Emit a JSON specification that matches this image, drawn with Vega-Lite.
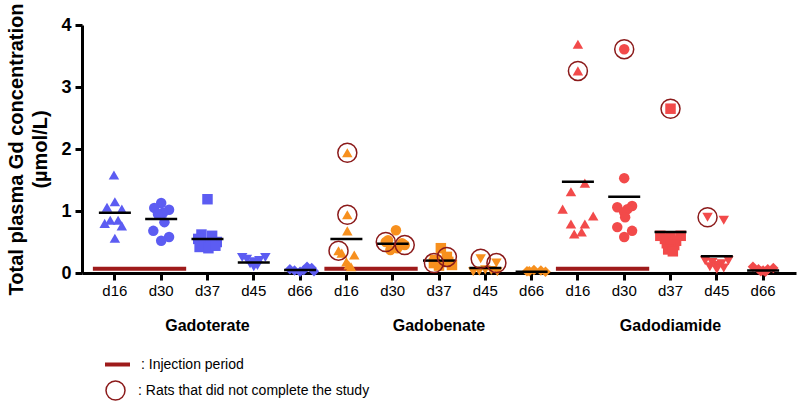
{
  "$schema": "https://vega.github.io/schema/vega-lite/v6.json",
  "width": 714,
  "height": 248,
  "autosize": "none",
  "padding": {"left": 82, "top": 25, "right": 4, "bottom": 135},
  "config": {
    "view": {"stroke": null},
    "axis": {"domainColor": "black", "domainWidth": 3, "tickColor": "black", "tickWidth": 3, "labelColor": "black", "titleColor": "black", "grid": false}
  },
  "datasets": {
    "pts": [
      {"a": "Gadoterate", "d": "d16", "v": 1.58, "j": -0.02, "o": 0},
      {"a": "Gadoterate", "d": "d16", "v": 1.06, "j": -0.17, "o": 0},
      {"a": "Gadoterate", "d": "d16", "v": 1.15, "j": 0, "o": 0},
      {"a": "Gadoterate", "d": "d16", "v": 1.03, "j": 0.15, "o": 0},
      {"a": "Gadoterate", "d": "d16", "v": 0.85, "j": -0.1, "o": 0},
      {"a": "Gadoterate", "d": "d16", "v": 0.85, "j": 0.07, "o": 0},
      {"a": "Gadoterate", "d": "d16", "v": 0.8, "j": -0.22, "o": 0},
      {"a": "Gadoterate", "d": "d16", "v": 0.76, "j": 0.15, "o": 0},
      {"a": "Gadoterate", "d": "d16", "v": 0.56, "j": 0, "o": 0},
      {"a": "Gadoterate", "d": "d30", "v": 1.13, "j": 0, "o": 0},
      {"a": "Gadoterate", "d": "d30", "v": 1.05, "j": -0.15, "o": 0},
      {"a": "Gadoterate", "d": "d30", "v": 1.02, "j": 0.17, "o": 0},
      {"a": "Gadoterate", "d": "d30", "v": 0.97, "j": 0.04, "o": 0},
      {"a": "Gadoterate", "d": "d30", "v": 0.95, "j": -0.07, "o": 0},
      {"a": "Gadoterate", "d": "d30", "v": 0.82, "j": 0.07, "o": 0},
      {"a": "Gadoterate", "d": "d30", "v": 0.68, "j": -0.17, "o": 0},
      {"a": "Gadoterate", "d": "d30", "v": 0.58, "j": 0.17, "o": 0},
      {"a": "Gadoterate", "d": "d30", "v": 0.52, "j": 0, "o": 0},
      {"a": "Gadoterate", "d": "d37", "v": 1.19, "j": 0, "o": 0},
      {"a": "Gadoterate", "d": "d37", "v": 0.62, "j": -0.13, "o": 0},
      {"a": "Gadoterate", "d": "d37", "v": 0.6, "j": 0.1, "o": 0},
      {"a": "Gadoterate", "d": "d37", "v": 0.55, "j": -0.2, "o": 0},
      {"a": "Gadoterate", "d": "d37", "v": 0.5, "j": 0.2, "o": 0},
      {"a": "Gadoterate", "d": "d37", "v": 0.48, "j": -0.08, "o": 0},
      {"a": "Gadoterate", "d": "d37", "v": 0.45, "j": 0.08, "o": 0},
      {"a": "Gadoterate", "d": "d37", "v": 0.42, "j": -0.17, "o": 0},
      {"a": "Gadoterate", "d": "d37", "v": 0.4, "j": 0.02, "o": 0},
      {"a": "Gadoterate", "d": "d37", "v": 0.44, "j": 0.17, "o": 0},
      {"a": "Gadoterate", "d": "d45", "v": 0.25, "j": -0.25, "o": 0},
      {"a": "Gadoterate", "d": "d45", "v": 0.25, "j": 0.25, "o": 0},
      {"a": "Gadoterate", "d": "d45", "v": 0.22, "j": -0.15, "o": 0},
      {"a": "Gadoterate", "d": "d45", "v": 0.2, "j": 0.12, "o": 0},
      {"a": "Gadoterate", "d": "d45", "v": 0.18, "j": 0, "o": 0},
      {"a": "Gadoterate", "d": "d45", "v": 0.15, "j": -0.08, "o": 0},
      {"a": "Gadoterate", "d": "d45", "v": 0.12, "j": 0.08, "o": 0},
      {"a": "Gadoterate", "d": "d45", "v": 0.1, "j": 0, "o": 0},
      {"a": "Gadoterate", "d": "d66", "v": 0.06, "j": -0.22, "o": 0},
      {"a": "Gadoterate", "d": "d66", "v": 0.04, "j": -0.12, "o": 0},
      {"a": "Gadoterate", "d": "d66", "v": 0.02, "j": 0, "o": 0},
      {"a": "Gadoterate", "d": "d66", "v": 0.05, "j": 0.08, "o": 0},
      {"a": "Gadoterate", "d": "d66", "v": 0.1, "j": 0.15, "o": 0},
      {"a": "Gadoterate", "d": "d66", "v": 0.08, "j": 0.25, "o": 0},
      {"a": "Gadoterate", "d": "d66", "v": 0.03, "j": 0.3, "o": 0},
      {"a": "Gadobenate", "d": "d16", "v": 1.94, "j": 0.02, "o": 1},
      {"a": "Gadobenate", "d": "d16", "v": 0.94, "j": 0.02, "o": 1},
      {"a": "Gadobenate", "d": "d16", "v": 0.68, "j": 0.02, "o": 0},
      {"a": "Gadobenate", "d": "d16", "v": 0.36, "j": -0.17, "o": 1},
      {"a": "Gadobenate", "d": "d16", "v": 0.32, "j": -0.1, "o": 0},
      {"a": "Gadobenate", "d": "d16", "v": 0.29, "j": 0.17, "o": 0},
      {"a": "Gadobenate", "d": "d16", "v": 0.18, "j": 0, "o": 0},
      {"a": "Gadobenate", "d": "d16", "v": 0.13, "j": 0.05, "o": 0},
      {"a": "Gadobenate", "d": "d16", "v": 0.1, "j": 0.1, "o": 0},
      {"a": "Gadobenate", "d": "d30", "v": 0.69, "j": 0.07, "o": 0},
      {"a": "Gadobenate", "d": "d30", "v": 0.53, "j": -0.1, "o": 0},
      {"a": "Gadobenate", "d": "d30", "v": 0.5, "j": -0.15, "o": 1},
      {"a": "Gadobenate", "d": "d30", "v": 0.48, "j": 0.2, "o": 0},
      {"a": "Gadobenate", "d": "d30", "v": 0.45, "j": 0.26, "o": 1},
      {"a": "Gadobenate", "d": "d30", "v": 0.4, "j": 0.1, "o": 0},
      {"a": "Gadobenate", "d": "d30", "v": 0.37, "j": -0.05, "o": 0},
      {"a": "Gadobenate", "d": "d37", "v": 0.4, "j": 0.04, "o": 0},
      {"a": "Gadobenate", "d": "d37", "v": 0.26, "j": 0.17, "o": 1},
      {"a": "Gadobenate", "d": "d37", "v": 0.21, "j": -0.09, "o": 0},
      {"a": "Gadobenate", "d": "d37", "v": 0.18, "j": 0.2, "o": 0},
      {"a": "Gadobenate", "d": "d37", "v": 0.16, "j": -0.11, "o": 1},
      {"a": "Gadobenate", "d": "d37", "v": 0.13, "j": 0.28, "o": 0},
      {"a": "Gadobenate", "d": "d37", "v": 0.12, "j": 0, "o": 0},
      {"a": "Gadobenate", "d": "d45", "v": 0.23, "j": -0.1, "o": 1},
      {"a": "Gadobenate", "d": "d45", "v": 0.16, "j": 0.24, "o": 1},
      {"a": "Gadobenate", "d": "d45", "v": 0.05, "j": 0, "o": 0},
      {"a": "Gadobenate", "d": "d45", "v": 0.04, "j": 0.13, "o": 0},
      {"a": "Gadobenate", "d": "d45", "v": 0.03, "j": -0.13, "o": 0},
      {"a": "Gadobenate", "d": "d45", "v": 0.02, "j": 0.26, "o": 0},
      {"a": "Gadobenate", "d": "d45", "v": 0.02, "j": -0.26, "o": 0},
      {"a": "Gadobenate", "d": "d66", "v": 0.03, "j": -0.1, "o": 0},
      {"a": "Gadobenate", "d": "d66", "v": 0.05, "j": 0.05, "o": 0},
      {"a": "Gadobenate", "d": "d66", "v": 0.04, "j": 0.2, "o": 0},
      {"a": "Gadobenate", "d": "d66", "v": 0.02, "j": 0.3, "o": 0},
      {"a": "Gadobenate", "d": "d66", "v": 0.03, "j": -0.05, "o": 0},
      {"a": "Gadodiamide", "d": "d16", "v": 3.69, "j": 0, "o": 0},
      {"a": "Gadodiamide", "d": "d16", "v": 3.26, "j": 0, "o": 1},
      {"a": "Gadodiamide", "d": "d16", "v": 1.45, "j": 0.15, "o": 0},
      {"a": "Gadodiamide", "d": "d16", "v": 1.31, "j": -0.15, "o": 0},
      {"a": "Gadodiamide", "d": "d16", "v": 1.03, "j": -0.33, "o": 0},
      {"a": "Gadodiamide", "d": "d16", "v": 0.92, "j": 0.33, "o": 0},
      {"a": "Gadodiamide", "d": "d16", "v": 0.79, "j": -0.15, "o": 0},
      {"a": "Gadodiamide", "d": "d16", "v": 0.79, "j": 0.15, "o": 0},
      {"a": "Gadodiamide", "d": "d16", "v": 0.66, "j": 0.08, "o": 0},
      {"a": "Gadodiamide", "d": "d16", "v": 0.63, "j": -0.08, "o": 0},
      {"a": "Gadodiamide", "d": "d30", "v": 3.61, "j": 0, "o": 1},
      {"a": "Gadodiamide", "d": "d30", "v": 1.53, "j": 0, "o": 0},
      {"a": "Gadodiamide", "d": "d30", "v": 1.08, "j": 0.17, "o": 0},
      {"a": "Gadodiamide", "d": "d30", "v": 1.06, "j": -0.15, "o": 0},
      {"a": "Gadodiamide", "d": "d30", "v": 1.03, "j": 0.07, "o": 0},
      {"a": "Gadodiamide", "d": "d30", "v": 0.98, "j": 0, "o": 0},
      {"a": "Gadodiamide", "d": "d30", "v": 0.9, "j": 0.02, "o": 0},
      {"a": "Gadodiamide", "d": "d30", "v": 0.74, "j": -0.15, "o": 0},
      {"a": "Gadodiamide", "d": "d30", "v": 0.68, "j": 0.17, "o": 0},
      {"a": "Gadodiamide", "d": "d30", "v": 0.58, "j": 0, "o": 0},
      {"a": "Gadodiamide", "d": "d37", "v": 2.65, "j": 0, "o": 1},
      {"a": "Gadodiamide", "d": "d37", "v": 0.6, "j": -0.22, "o": 0},
      {"a": "Gadodiamide", "d": "d37", "v": 0.6, "j": 0.22, "o": 0},
      {"a": "Gadodiamide", "d": "d37", "v": 0.58, "j": 0, "o": 0},
      {"a": "Gadodiamide", "d": "d37", "v": 0.55, "j": -0.12, "o": 0},
      {"a": "Gadodiamide", "d": "d37", "v": 0.52, "j": 0.12, "o": 0},
      {"a": "Gadodiamide", "d": "d37", "v": 0.48, "j": -0.08, "o": 0},
      {"a": "Gadodiamide", "d": "d37", "v": 0.45, "j": 0.08, "o": 0},
      {"a": "Gadodiamide", "d": "d37", "v": 0.42, "j": 0, "o": 0},
      {"a": "Gadodiamide", "d": "d37", "v": 0.38, "j": -0.05, "o": 0},
      {"a": "Gadodiamide", "d": "d37", "v": 0.35, "j": 0.05, "o": 0},
      {"a": "Gadodiamide", "d": "d45", "v": 0.9, "j": -0.2, "o": 1},
      {"a": "Gadodiamide", "d": "d45", "v": 0.85, "j": 0.15, "o": 0},
      {"a": "Gadodiamide", "d": "d45", "v": 0.2, "j": -0.25, "o": 0},
      {"a": "Gadodiamide", "d": "d45", "v": 0.2, "j": 0.25, "o": 0},
      {"a": "Gadodiamide", "d": "d45", "v": 0.17, "j": -0.1, "o": 0},
      {"a": "Gadodiamide", "d": "d45", "v": 0.15, "j": 0.1, "o": 0},
      {"a": "Gadodiamide", "d": "d45", "v": 0.12, "j": 0, "o": 0},
      {"a": "Gadodiamide", "d": "d45", "v": 0.1, "j": -0.15, "o": 0},
      {"a": "Gadodiamide", "d": "d45", "v": 0.08, "j": 0.15, "o": 0},
      {"a": "Gadodiamide", "d": "d45", "v": 0.06, "j": 0, "o": 0},
      {"a": "Gadodiamide", "d": "d66", "v": 0.1, "j": -0.22, "o": 0},
      {"a": "Gadodiamide", "d": "d66", "v": 0.08, "j": 0.22, "o": 0},
      {"a": "Gadodiamide", "d": "d66", "v": 0.06, "j": -0.1, "o": 0},
      {"a": "Gadodiamide", "d": "d66", "v": 0.06, "j": 0.1, "o": 0},
      {"a": "Gadodiamide", "d": "d66", "v": 0.04, "j": 0, "o": 0},
      {"a": "Gadodiamide", "d": "d66", "v": 0.02, "j": 0.05, "o": 0},
      {"a": "Gadodiamide", "d": "d66", "v": 0.03, "j": -0.05, "o": 0}
    ],
    "means": [
      {"a": "Gadoterate", "d": "d16", "v": 0.97},
      {"a": "Gadoterate", "d": "d30", "v": 0.87},
      {"a": "Gadoterate", "d": "d37", "v": 0.55},
      {"a": "Gadoterate", "d": "d45", "v": 0.17},
      {"a": "Gadoterate", "d": "d66", "v": 0.05},
      {"a": "Gadobenate", "d": "d16", "v": 0.55},
      {"a": "Gadobenate", "d": "d30", "v": 0.47},
      {"a": "Gadobenate", "d": "d37", "v": 0.2},
      {"a": "Gadobenate", "d": "d45", "v": 0.08},
      {"a": "Gadobenate", "d": "d66", "v": 0.02},
      {"a": "Gadodiamide", "d": "d16", "v": 1.47},
      {"a": "Gadodiamide", "d": "d30", "v": 1.23},
      {"a": "Gadodiamide", "d": "d37", "v": 0.66},
      {"a": "Gadodiamide", "d": "d45", "v": 0.27},
      {"a": "Gadodiamide", "d": "d66", "v": 0.04}
    ],
    "inj": [
      {"s": "Gadoterate|d16", "e": "Gadoterate|d30"},
      {"s": "Gadobenate|d16", "e": "Gadobenate|d30"},
      {"s": "Gadodiamide|d16", "e": "Gadodiamide|d30"}
    ]
  },
  "layer": [
    {
      "data": {"name": "inj"},
      "mark": {"type": "rule", "strokeWidth": 4, "xOffset": -22, "x2Offset": 25},
      "encoding": {
        "x": {"field": "s", "type": "nominal", "axis": null,
          "scale": {"domain": ["Gadoterate|d16","Gadoterate|d30","Gadoterate|d37","Gadoterate|d45","Gadoterate|d66","Gadobenate|d16","Gadobenate|d30","Gadobenate|d37","Gadobenate|d45","Gadobenate|d66","Gadodiamide|d16","Gadodiamide|d30","Gadodiamide|d37","Gadodiamide|d45","Gadodiamide|d66"], "paddingInner": 0, "paddingOuter": 0.21}},
        "x2": {"field": "e"},
        "y": {"datum": 0.07, "type": "quantitative"},
        "color": {"datum": ": Injection period", "type": "nominal",
          "scale": {"range": ["#9e1b1b"]},
          "legend": {"orient": "none", "legendX": 21, "legendY": 325, "title": null, "padding": 0,
            "symbolType": "stroke", "symbolSize": 625, "symbolStrokeWidth": 4,
            "labelFont": "Liberation Sans", "labelFontSize": 14, "labelColor": "black", "labelOffset": 9, "labelLimit": 500}}
      }
    },
    {
      "data": {"name": "pts"},
      "transform": [{"calculate": "datum.a + '|' + datum.d", "as": "key"}],
      "mark": {"type": "point", "filled": true, "opacity": 1, "size": 110, "strokeWidth": 0},
      "encoding": {
        "x": {"field": "key", "type": "nominal",
          "scale": {"domain": ["Gadoterate|d16","Gadoterate|d30","Gadoterate|d37","Gadoterate|d45","Gadoterate|d66","Gadobenate|d16","Gadobenate|d30","Gadobenate|d37","Gadobenate|d45","Gadobenate|d66","Gadodiamide|d16","Gadodiamide|d30","Gadodiamide|d37","Gadodiamide|d45","Gadodiamide|d66"], "paddingInner": 0, "paddingOuter": 0.21},
          "axis": {"orient": "bottom", "title": null, "labelExpr": "split(datum.value, '|')[1]", "tickSize": 7, "labelPadding": 3,
            "labelFont": "Liberation Sans", "labelFontSize": 15, "labelAngle": 0, "labelOverlap": false}},
        "xOffset": {"field": "j", "type": "quantitative", "scale": {"domain": [-0.5, 0.5]}},
        "y": {
          "field": "v", "type": "quantitative",
          "scale": {"domain": [0, 4], "nice": false},
          "axis": {
            "title": ["Total plasma Gd concentration", "(µmol/L)"],
            "values": [0, 1, 2, 3, 4], "format": "d",
            "tickSize": 7, "labelPadding": 4,
            "labelFont": "Liberation Sans", "labelFontWeight": "bold", "labelFontSize": 18,
            "titleFont": "Liberation Sans", "titleFontWeight": "bold", "titleFontSize": 20,
            "titleLineHeight": 24, "titlePadding": 10
          }
        },
        "fill": {"field": "a", "type": "nominal", "legend": null,
          "scale": {"domain": ["Gadoterate", "Gadobenate", "Gadodiamide"], "range": ["#5c5cf2", "#f7901e", "#f24a4a"]}},
        "shape": {"field": "d", "type": "nominal", "legend": null,
          "scale": {"domain": ["d16", "d30", "d37", "d45", "d66"], "range": ["triangle-up", "circle", "square", "triangle-down", "diamond"]}}
      }
    },
    {
      "data": {"name": "means"},
      "transform": [{"calculate": "datum.a + '|' + datum.d", "as": "key"}],
      "mark": {"type": "tick", "color": "black", "size": 32, "thickness": 2.5, "opacity": 1},
      "encoding": {
        "x": {"field": "key", "type": "nominal",
          "scale": {"domain": ["Gadoterate|d16","Gadoterate|d30","Gadoterate|d37","Gadoterate|d45","Gadoterate|d66","Gadobenate|d16","Gadobenate|d30","Gadobenate|d37","Gadobenate|d45","Gadobenate|d66","Gadodiamide|d16","Gadodiamide|d30","Gadodiamide|d37","Gadodiamide|d45","Gadodiamide|d66"], "paddingInner": 0, "paddingOuter": 0.21},
          "axis": {"orient": "bottom", "title": null, "domain": false, "ticks": false, "tickSize": 0, "labelPadding": 44,
            "labelExpr": "split(datum.value, '|')[1] == 'd37' ? split(datum.value, '|')[0] : ''",
            "labelFont": "Liberation Sans", "labelFontWeight": "bold", "labelFontSize": 16,
            "labelAngle": 0, "labelOverlap": false, "labelBaseline": "top", "labelLimit": 300}},
        "y": {"field": "v", "type": "quantitative", "scale": {"domain": [0, 4], "nice": false}}
      }
    },
    {
      "data": {"name": "pts"},
      "transform": [
        {"filter": "datum.o == 1"},
        {"calculate": "datum.a + '|' + datum.d", "as": "key"}
      ],
      "mark": {"type": "point", "filled": false, "shape": "circle", "size": 361, "strokeWidth": 1.5, "opacity": 1},
      "encoding": {
        "x": {"field": "key", "type": "nominal", "axis": null,
          "scale": {"domain": ["Gadoterate|d16","Gadoterate|d30","Gadoterate|d37","Gadoterate|d45","Gadoterate|d66","Gadobenate|d16","Gadobenate|d30","Gadobenate|d37","Gadobenate|d45","Gadobenate|d66","Gadodiamide|d16","Gadodiamide|d30","Gadodiamide|d37","Gadodiamide|d45","Gadodiamide|d66"], "paddingInner": 0, "paddingOuter": 0.21}},
        "xOffset": {"field": "j", "type": "quantitative", "scale": {"domain": [-0.5, 0.5]}},
        "y": {"field": "v", "type": "quantitative", "scale": {"domain": [0, 4], "nice": false}},
        "stroke": {"datum": ": Rats that did not complete the study", "type": "nominal",
          "scale": {"range": ["#8b1a1a"]},
          "legend": {"orient": "none", "legendX": 23, "legendY": 355, "title": null, "padding": 0,
            "symbolType": "circle", "symbolSize": 361, "symbolStrokeWidth": 1.5,
            "labelFont": "Liberation Sans", "labelFontSize": 14, "labelColor": "black", "labelOffset": 12, "labelLimit": 500}}
      }
    }
  ],
  "resolve": {"axis": {"x": "independent"}}
}
